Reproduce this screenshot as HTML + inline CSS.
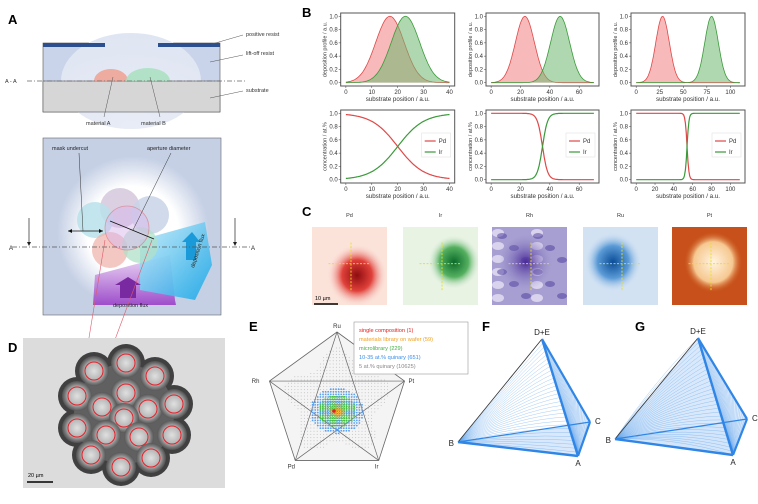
<!DOCTYPE html>
<html><head><meta charset="utf-8"><style>
html,body{margin:0;padding:0;background:#fff;}
svg{display:block;font-family:"Liberation Sans",sans-serif;}
</style></head><body>
<svg id="fig" width="758" height="504" viewBox="0 0 758 504" xmlns="http://www.w3.org/2000/svg">
<defs>
<radialGradient id="glow" cx="0.5" cy="0.5" r="0.5"><stop offset="0.6" stop-color="#fff"/><stop offset="1" stop-color="#fff" stop-opacity="0"/></radialGradient>
<radialGradient id="dome" cx="0.5" cy="1" r="1"><stop offset="0" stop-color="#e8ecf6"/><stop offset="1" stop-color="#dfe5f2"/></radialGradient>
<linearGradient id="cyanG" x1="0" y1="0" x2="1" y2="1"><stop offset="0" stop-color="#bfe8f8"/><stop offset="1" stop-color="#19a8e8"/></linearGradient>
<linearGradient id="purG" x1="0" y1="0" x2="0" y2="1"><stop offset="0" stop-color="#e9d6f3"/><stop offset="1" stop-color="#9a3fc8"/></linearGradient>
<radialGradient id="pdBlob" cx="0.6" cy="0.62" r="0.4"><stop offset="0" stop-color="#8e0d10"/><stop offset="0.5" stop-color="#e0403a"/><stop offset="1" stop-color="#fbe0d8" stop-opacity="0"/></radialGradient>
<radialGradient id="irBlob" cx="0.68" cy="0.45" r="0.35"><stop offset="0" stop-color="#0b6b2a"/><stop offset="0.55" stop-color="#55b060"/><stop offset="1" stop-color="#e6f2e2" stop-opacity="0"/></radialGradient>
<radialGradient id="rhBlob" cx="0.45" cy="0.45" r="0.35"><stop offset="0" stop-color="#4a2a9a"/><stop offset="1" stop-color="#8a80c0" stop-opacity="0"/></radialGradient>
<radialGradient id="ruBlob" cx="0.4" cy="0.45" r="0.38"><stop offset="0" stop-color="#0b4d98"/><stop offset="0.55" stop-color="#5a9ad6"/><stop offset="1" stop-color="#cfe0f2" stop-opacity="0"/></radialGradient>
<radialGradient id="ptBlob" cx="0.55" cy="0.45" r="0.4"><stop offset="0" stop-color="#fff4e0"/><stop offset="0.65" stop-color="#f6c890"/><stop offset="1" stop-color="#c44a10" stop-opacity="0"/></radialGradient>
<radialGradient id="well" cx="0.5" cy="0.5" r="0.5"><stop offset="0" stop-color="#e0e0e0"/><stop offset="0.6" stop-color="#b4b4b4"/><stop offset="1" stop-color="#555" stop-opacity="0.8"/></radialGradient>
</defs>

<text x="8" y="24" font-size="13" font-weight="bold">A</text>
<text x="302" y="17" font-size="13" font-weight="bold">B</text>
<text x="302" y="216" font-size="13" font-weight="bold">C</text>
<text x="8" y="352" font-size="13" font-weight="bold">D</text>
<text x="249" y="331" font-size="13" font-weight="bold">E</text>
<text x="482" y="331" font-size="13" font-weight="bold">F</text>
<text x="635" y="331" font-size="13" font-weight="bold">G</text>

<g>
<rect x="43" y="43" width="177" height="69" fill="#c9d4ea" stroke="#555" stroke-width="0.6"/>
<ellipse cx="131" cy="81" rx="70" ry="48" fill="url(#dome)"/>
<rect x="43" y="81" width="177" height="31" fill="#d6d6d6" stroke="#555" stroke-width="0.6"/>
<path d="M94 81 A17 12 0 0 1 128 81 Z" fill="#f0a090" opacity="0.85"/>
<path d="M126 81 A22 13 0 0 1 170 81 Z" fill="#a8e0c0" opacity="0.85"/>
<rect x="43" y="43" width="62" height="4" fill="#2c4f8f"/>
<rect x="158" y="43" width="62" height="4" fill="#2c4f8f"/>
<line x1="27" y1="81" x2="247" y2="81" stroke="#666" stroke-width="0.7" stroke-dasharray="5,2,1,2"/>
<text x="5" y="83" font-size="5.5" fill="#333">A - A</text>
<line x1="212" y1="44" x2="243" y2="35" stroke="#555" stroke-width="0.5"/>
<line x1="210" y1="62" x2="243" y2="55" stroke="#555" stroke-width="0.5"/>
<line x1="210" y1="98" x2="243" y2="91" stroke="#555" stroke-width="0.5"/>
<line x1="113" y1="77" x2="104" y2="117" stroke="#555" stroke-width="0.5"/>
<line x1="150" y1="77" x2="160" y2="117" stroke="#555" stroke-width="0.5"/>
<text x="246" y="36" font-size="5.5" fill="#333">positive resist</text>
<text x="246" y="55" font-size="5.5" fill="#333">lift-off resist</text>
<text x="246" y="92" font-size="5.5" fill="#333">substrate</text>
<text x="86" y="125" font-size="5.5" fill="#333">material A</text>
<text x="141" y="125" font-size="5.5" fill="#333">material B</text>
</g>

<g>
<rect x="43" y="138" width="178" height="177" fill="#c5d0e5" stroke="#666" stroke-width="0.6"/>
<circle cx="133" cy="232" r="76" fill="url(#glow)"/>
<polygon points="95,275 170,255 175,300 176,305 93,305" fill="url(#purG)" opacity="0.9"/>
<polygon points="140,240 205,222 212,265 195,300 140,290" fill="url(#cyanG)" opacity="0.9"/>
<circle cx="120" cy="208" r="20" fill="#d4c8dc" opacity="0.85"/>
<circle cx="95" cy="220" r="18" fill="#b8e0ea" opacity="0.85"/>
<circle cx="150" cy="215" r="19" fill="#c8d4e6" opacity="0.85"/>
<circle cx="110" cy="250" r="18" fill="#f0b0a8" opacity="0.7"/>
<circle cx="140" cy="245" r="18" fill="#b0e0c8" opacity="0.75"/>
<circle cx="127" cy="228" r="22" fill="#d8b8ec" opacity="0.5" stroke="#e05a6a" stroke-width="0.8"/>
<polygon points="120,298 120,285 115,285 128,277 141,285 136,285 136,298" fill="#7a2aa0"/>
<polygon points="186,260 186,242 182,242 192,232 200,242 196,242 196,260" fill="#1a9ad8"/>
<line x1="68" y1="231" x2="103" y2="231" stroke="#111" stroke-width="0.8"/>
<path d="M68 231 l4 -2 v4 z M103 231 l-4 -2 v4 z" fill="#111"/>
<line x1="110" y1="221" x2="154" y2="239" stroke="#111" stroke-width="0.8"/>
<line x1="79" y1="153" x2="83" y2="231" stroke="#333" stroke-width="0.5"/>
<line x1="171" y1="153" x2="133" y2="230" stroke="#333" stroke-width="0.5"/>
<line x1="12" y1="247" x2="250" y2="247" stroke="#555" stroke-width="0.7" stroke-dasharray="5,2,1,2"/>
<text x="9" y="250" font-size="6" fill="#222">A</text>
<text x="251" y="250" font-size="6" fill="#222">A</text>
<line x1="29" y1="218" x2="29" y2="244" stroke="#222" stroke-width="0.7"/><path d="M29 246 l-2 -4 h4 z" fill="#222"/>
<line x1="235" y1="218" x2="235" y2="244" stroke="#222" stroke-width="0.7"/><path d="M235 246 l-2 -4 h4 z" fill="#222"/>
<text x="52" y="150" font-size="5.5" fill="#222">mask undercut</text>
<text x="147" y="150" font-size="5.5" fill="#222">aperture diameter</text>
<text x="113" y="307" font-size="5.5" fill="#222">deposition flux</text>
<text x="0" y="0" font-size="5.5" fill="#222" transform="translate(194,268) rotate(-72)">deposition flux</text>
<line x1="105" y1="240" x2="87" y2="350" stroke="#e05a6a" stroke-width="0.6"/>
<line x1="152" y1="240" x2="113" y2="345" stroke="#e05a6a" stroke-width="0.6"/>
</g>

<g>
<rect x="23" y="338" width="202" height="150" fill="#dcdcdc"/>
<g id="dblob"></g>
<line x1="27" y1="482" x2="53" y2="482" stroke="#000" stroke-width="1.5"/>
<text x="28" y="477" font-size="5.5" fill="#000">20 µm</text>
</g>

<g id="bcharts"></g>
<g id="cmaps"></g>
<g id="pent"></g>
<g>
<rect x="354" y="322" width="114" height="52" fill="#fff" stroke="#999" stroke-width="0.6"/>
<text x="359" y="332" font-size="5.6" fill="#e02020">single composition (1)</text>
<text x="359" y="341" font-size="5.6" fill="#f0a020">materials library on wafer (59)</text>
<text x="359" y="350" font-size="5.6" fill="#40b040">microlibrary (229)</text>
<text x="359" y="359" font-size="5.6" fill="#3a8ee6">10-35 at.% quinary (651)</text>
<text x="359" y="368" font-size="5.6" fill="#888">5 at.% quinary (10625)</text>
</g>
<g id="tetF"></g>
<g id="tetG"></g>
</svg>

<script>
// ---- Panel B data ----
const bxMax = [40, 70, 110];
const bPdCenters = [17, 23, 28];
const bIrCenters = [23, 47, 80];
const bSigmas = [5.5, 6.5, 7.2];
const bTopTicks = [[0,10,20,30,40],[0,20,40,60],[0,25,50,75,100]];
const bBotTicks = [[0,10,20,30,40],[0,20,40,60],[0,20,40,60,80,100]];
const bYTicks = [0, 0.2, 0.4, 0.6, 0.8, 1.0];
const bSeriesNames = ['Pd', 'Ir'];

const NS = 'http://www.w3.org/2000/svg';
function mk(tag, attrs, parent){ const e=document.createElementNS(NS,tag); for(const k in attrs) e.setAttribute(k,attrs[k]); if(parent) parent.appendChild(e); return e; }

const colL=[340.7,486,631], colR=[454.7,599,745];
const rows=[[13,86],[110,183]];
const bg=document.getElementById('bcharts');
function gauss(x,m,s){return Math.exp(-0.5*((x-m)/s)**2);}
for(let c=0;c<3;c++){
  const xmin=-0.05*bxMax[c], xmaxL=bxMax[c]*1.05;
  const X=v=>colL[c]+(v-xmin)/(xmaxL-xmin)*(colR[c]-colL[c]);
  for(let r=0;r<2;r++){
    const [t,b]=rows[r];
    const Y=v=>b-(v+0.05)/1.1*(b-t);
    const g=mk('g',{},bg);
    
    
    const N=120, pts={Pd:[],Ir:[]};
    for(let i=0;i<=N;i++){
      const x=bxMax[c]*i/N;
      const p=gauss(x,bPdCenters[c],bSigmas[c]), q=gauss(x,bIrCenters[c],bSigmas[c]);
      if(r===0){pts.Pd.push([x,p]);pts.Ir.push([x,q]);}
      else{const s=p+q; const f=s>1e-12?p/s:(x<(bPdCenters[c]+bIrCenters[c])/2?1:0); pts.Pd.push([x,f]);pts.Ir.push([x,1-f]);}
    }
    const cols={Pd:['#f08080','#e04848'],Ir:['#70b870','#3a9a3a']};
    bSeriesNames.forEach(n=>{
      const d=pts[n].map((p,i)=>(i?'L':'M')+X(p[0]).toFixed(1)+' '+Y(p[1]).toFixed(1)).join(' ');
      if(r===0){
        const a=mk('path',{d:d+` L${X(bxMax[c]).toFixed(1)} ${Y(0)} L${X(0)} ${Y(0)} Z`,fill:cols[n][0],'fill-opacity':0.55,stroke:'none'},g);
        
        
      }
      const l=mk('path',{d,fill:'none',stroke:cols[n][1],'stroke-width':r===0?0.8:1.2},g);
      
      
    });
    mk('rect',{x:colL[c],y:t,width:colR[c]-colL[c],height:b-t,fill:'none',stroke:'#555','stroke-width':1},g);
    (r===0?bTopTicks:bBotTicks)[c].forEach(v=>{
      mk('line',{x1:X(v),x2:X(v),y1:b,y2:b+2,stroke:'#444','stroke-width':0.5},g);
      const tx=mk('text',{x:X(v),y:b+8,'font-size':6,'text-anchor':'middle',fill:'#333'},g); tx.textContent=v;
    });
    bYTicks.forEach(v=>{
      mk('line',{x1:colL[c]-2,x2:colL[c],y1:Y(v),y2:Y(v),stroke:'#444','stroke-width':0.5},g);
      const tx=mk('text',{x:colL[c]-3,y:Y(v)+2,'font-size':6,'text-anchor':'end',fill:'#333'},g); tx.textContent=v.toFixed(1);
    });
    const xl=mk('text',{x:(colL[c]+colR[c])/2,y:b+15,'font-size':6.2,'text-anchor':'middle',fill:'#333'},g);
    xl.textContent='substrate position / a.u.';
    
    
    const yl=mk('text',{x:0,y:0,'font-size':5.5,'text-anchor':'middle',fill:'#333',transform:`translate(${colL[c]-14},${(t+b)/2}) rotate(-90)`},g);
    yl.textContent=r===0?'deposition profile / a.u.':'concentration / at.%';
    
    
    if(r===1){
      const lg=mk('g',{},g);
      
      
      mk('rect',{x:colR[c]-33,y:133,width:29,height:24,fill:'#fff',stroke:'#ddd','stroke-width':0.5},lg);
      bSeriesNames.forEach((n,i)=>{
        mk('line',{x1:colR[c]-30,x2:colR[c]-19,y1:141+i*11,y2:141+i*11,stroke:cols[n][1],'stroke-width':1.2},lg);
        const tx=mk('text',{x:colR[c]-16,y:143+i*11,'font-size':6,fill:'#333'},lg); tx.textContent=n;
      });
    }
  }
}

// ---- Panel C maps ----
const cElements=['Pd','Ir','Rh','Ru','Pt'];
const cX=[312,403,492,583,672];
const cBg=['#fbe3da','#e8f3e4','#a79fd2','#d2e2f3','#c8501a'];
const cBlob=['pdBlob','irBlob','rhBlob','ruBlob','ptBlob'];
const cg=document.getElementById('cmaps');
cElements.forEach((el,i)=>{
  const g=mk('g',{},cg);
  
  
  const x=cX[i],y=227,w=75,h=78;
  mk('rect',{x,y,width:w,height:h,fill:cBg[i]},g);
  if(el==='Rh'){ for(let a=0;a<6;a++)for(let b=0;b<6;b++){ if((a*7+b*3)%3===0) mk('ellipse',{cx:x+6+a*13,cy:y+6+b*13,rx:6,ry:4,fill:'#eeeaf8',opacity:0.7},g); if((a+b*5)%3===0) mk('ellipse',{cx:x+10+a*12,cy:y+9+b*12,rx:5,ry:3,fill:'#4a3a9a',opacity:0.5},g);} }
  mk('rect',{x,y,width:w,height:h,fill:`url(#${cBlob[i]})`},g);
  mk('line',{x1:x+w*0.22,x2:x+w*0.78,y1:y+h*0.47,y2:y+h*0.47,stroke:'#e8e020','stroke-width':0.9,'stroke-dasharray':'2,1.5'},g);
  mk('line',{x1:x+w*0.52,x2:x+w*0.52,y1:y+h*0.2,y2:y+h*0.82,stroke:'#e8e020','stroke-width':0.9,'stroke-dasharray':'2,1.5'},g);
  const t=mk('text',{x:x+w/2,y:217,'font-size':5.5,'text-anchor':'middle',fill:'#333'},cg); t.textContent=el;
  
  
});
mk('line',{x1:314,x2:338,y1:304,y2:304,stroke:'#000','stroke-width':1.5},cg);
const sb=mk('text',{x:315,y:300,'font-size':5.5,fill:'#000'},cg); sb.textContent='10 µm';

// ---- Panel D ----
const dCircles=[[94,371],[126,363],[155,376],[77,396],[126,393],[102,407],[148,409],[174,404],[124,418],[77,428],[106,435],[139,437],[172,435],[91,455],[151,458],[121,467]];
const dg=document.getElementById('dblob');
dCircles.forEach(p=>mk('circle',{cx:p[0],cy:p[1],r:19,fill:'#404040'},dg));
mk('circle',{cx:124,cy:414,r:50,fill:'#606060'},dg);
dCircles.forEach(p=>mk('circle',{cx:p[0],cy:p[1],r:15,fill:'url(#well)'},dg));
dCircles.forEach((p,i)=>{ const c=mk('circle',{cx:p[0],cy:p[1],r:9,fill:'none',stroke:'#e8202a','stroke-width':1},dg);
  
   });

// ---- Panel E ----
const eLabels=['Ru','Pt','Ir','Pd','Rh'];
const pg=document.getElementById('pent');
const ecx=337,ecy=403,eR=71;
const V=eLabels.map((n,i)=>{const a=-Math.PI/2+i*2*Math.PI/5;return [ecx+eR*Math.cos(a),ecy+eR*Math.sin(a)];});
mk('polygon',{points:V.map(p=>p.join(',')).join(' '),fill:'#f4f4f4',stroke:'#666','stroke-width':0.8},pg);
for(let yy=ecy-eR;yy<ecy+eR;yy+=3.2)for(let xx=ecx-eR;xx<ecx+eR;xx+=3.2){
  const dx=xx-ecx,dy=yy-ecy,d=Math.hypot(dx,dy);
  if(d<eR*0.78*(0.85+0.15*Math.cos(5*(Math.atan2(dy,dx)+Math.PI/2))) ) mk('circle',{cx:xx,cy:yy,r:0.5,fill:'#bbb'},pg);
}
for(let i=0;i<5;i++){ mk('line',{x1:V[i][0],y1:V[i][1],x2:V[(i+2)%5][0],y2:V[(i+2)%5][1],stroke:'#666','stroke-width':0.7},pg); }
const eRings=[[27,'#5aa0ee',2.6],[19,'#46c040',2.4],[8,'#f0a020',2.4]];
eRings.forEach(([R,col,st])=>{ for(let yy=-R;yy<=R;yy+=st)for(let xx=-R;xx<=R;xx+=st){ if(xx*xx/(R*R)+yy*yy/(R*R*0.7)<=1) mk('circle',{cx:ecx+xx,cy:ecy+8+yy,r:0.9,fill:col},pg);} });
mk('circle',{cx:ecx-3,cy:ecy+8,r:1.8,fill:'#e02020'},pg);
const eOff=[[0,-4],[4,2],[-2,8],[-4,8],[-10,2]];
eLabels.forEach((n,i)=>{ const t=mk('text',{x:V[i][0]+eOff[i][0],y:V[i][1]+eOff[i][1],'font-size':6,'text-anchor':i===1?'start':(i===4?'end':'middle'),fill:'#333'},pg); t.textContent=n;
  
   });

// ---- Panel F/G ----
function tet(id,P,full){
  const g=document.getElementById(id);
  const {T,B,C,A}=P;
  const L=(p,q,w,col)=>mk('line',{x1:p[0],y1:p[1],x2:q[0],y2:q[1],stroke:col,'stroke-width':w},g);
  mk('polygon',{points:[B,A,C].map(p=>p.join(',')).join(' '),fill:'#cfe3fa',opacity:0.8},g);
  if(full) mk('polygon',{points:[B,T,A].map(p=>p.join(',')).join(' '),fill:'#cfe3fa',opacity:0.8},g);
  mk('polygon',{points:[T,A,C].map(p=>p.join(',')).join(' '),fill:'#cfe3fa',opacity:0.7},g);
  const n=30;
  for(let i=0;i<=n;i++){const s=i/n;
    const q=[T[0]+(A[0]-T[0])*s,T[1]+(A[1]-T[1])*s];
    mk('path',{d:`M${B[0]} ${B[1]} Q${(B[0]+q[0])/2+(full?0:25*(1-s))} ${(B[1]+q[1])/2-(full?10:30*(1-s))} ${q[0]} ${q[1]}`,fill:'none',stroke:'#4a96e8','stroke-width':0.35,opacity:0.7},g);
    const r=[T[0]+(C[0]-T[0])*s,T[1]+(C[1]-T[1])*s];
    mk('line',{x1:r[0],y1:r[1],x2:A[0],y2:A[1],stroke:'#4a96e8','stroke-width':0.3,opacity:0.6},g);
  }
  L(B,T,0.8,'#333');
  L(B,A,2.4,'#2f86e6'); L(T,A,2.4,'#2f86e6'); L(T,C,2.2,'#2f86e6'); L(C,A,2.2,'#2f86e6'); L(B,C,1.2,'#2f86e6');
  const lab=[['D+E',T,0,-4,'middle'],['B',B,-4,4,'end'],['C',C,5,2,'start'],['A',A,0,10,'middle']];
  lab.forEach(([t,p,dx,dy,an])=>{const e=mk('text',{x:p[0]+dx,y:p[1]+dy,'font-size':8,'text-anchor':an,fill:'#222'},g); e.textContent=t;
    
    });
}
tet('tetF',{T:[542,339],B:[458,442],C:[590,422],A:[578,456]},false);
tet('tetG',{T:[698,338],B:[615,439],C:[747,419],A:[733,455]},true);
</script>
</body></html>
